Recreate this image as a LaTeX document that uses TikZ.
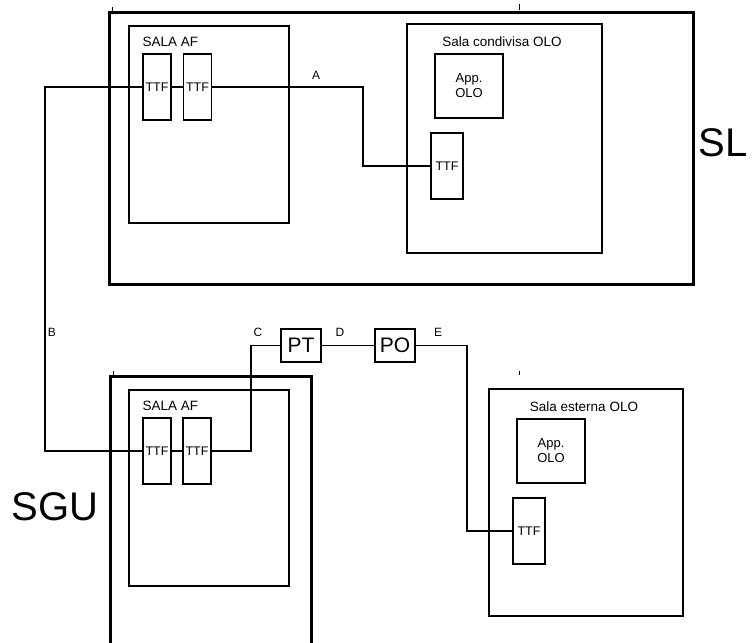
\documentclass[tikz,border=0pt]{standalone}
\usepackage{fontspec}
\setmainfont{Liberation Sans}
\usetikzlibrary{positioning}

\begin{document}
\begin{tikzpicture}[
        x=1pt, y=-1pt,
        line width=1.2pt,
        site/.style={rectangle, draw, line width=3pt, inner sep=0pt},
        room/.style={rectangle, draw, inner sep=0pt},
        ttf/.style={rectangle, draw, fill=white, minimum width=28pt, minimum height=66pt, inner sep=0pt, font=\fontsize{12.5}{14}\selectfont},
        app/.style={rectangle, draw, minimum width=68pt, minimum height=64pt, align=center, inner sep=0pt, font=\fontsize{13}{15}\selectfont},
        tag/.style={inner sep=0pt, font=\fontsize{13.5}{15}\selectfont},
        letter/.style={inner sep=0pt, font=\fontsize{12}{14}\selectfont},
        big/.style={inner sep=0pt, font=\fontsize{40}{40}\selectfont}
    ]
        \useasboundingbox (0,0) rectangle (753,643);
        \clip (0,0) rectangle (753,643);

        % SL site
        \node[site, minimum width=584pt, minimum height=272pt] (sl) at (401,148) {};
        \node[big] (sllabel) at (723,143) {SL};
        \node[room, minimum width=160pt, minimum height=197pt] (afup) at (209,124.5) {};
        \node[tag, anchor=west] (afuplabel) at (142,42) {SALA AF};
        \node[ttf] (ttfa) at (157,87) {TTF};
        \node[ttf] (ttfb) at (197.5,87) {TTF};
        \node[room, minimum width=195pt, minimum height=229pt] (shared) at (504.5,138.5) {};
        \node[tag] (sharedlabel) at (502,42) {Sala condivisa OLO};
        \node[app] (appup) at (469,86) {App.\\OLO};
        \node[ttf, minimum width=32pt] (ttfc) at (447,166) {TTF};

        % SGU site
        \draw[line width=3pt] (110,660) |- (311,376) -- (311,660);
        \node[big] (sgulabel) at (55,507) {SGU};
        \node[room, minimum width=160pt, minimum height=196pt] (afdown) at (209,488) {};
        \node[tag, anchor=west] (afdownlabel) at (142,406) {SALA AF};
        \node[ttf] (ttfd) at (157,451) {TTF};
        \node[ttf] (ttfe) at (197,451) {TTF};

        % external OLO room
        \node[room, minimum width=194pt, minimum height=227pt] (ext) at (586,502.5) {};
        \node[tag] (extlabel) at (584,407) {Sala esterna OLO};
        \node[app] (appdown) at (551,451) {App.\\OLO};
        \node[ttf, minimum width=32pt] (ttff) at (529,531) {TTF};

        % PT and PO
        \node[room, minimum width=40pt, minimum height=33pt, font=\fontsize{21}{21}\selectfont] (pt) at (301,345.5) {PT};
        \node[room, minimum width=40pt, minimum height=33pt, font=\fontsize{21}{21}\selectfont] (po) at (395,345.5) {PO};

        % bends
        \coordinate (bendA) at (363,87);
        \coordinate (bendB) at (45,87);
        \coordinate (bendC) at (251,451);
        \coordinate (bendE) at (467,345.5);

        % links
        \draw (ttfa) -- (ttfb);
        \draw (ttfd) -- (ttfe);
        \draw (ttfb.east) -- (bendA) |- (ttfc.west);
        \draw (ttfa.west) -- (bendB) |- (ttfd.west);
        \draw (ttfe.east) -- (bendC) |- (pt.west);
        \draw (pt.east) -- (po.west);
        \draw (po.east) -- (bendE) |- (ttff.west);

        \node[letter] (la) at (316,75) {A};
        \node[letter] (lb) at (52,332) {B};
        \node[letter] (lc) at (258,332) {C};
        \node[letter] (ld) at (340,332) {D};
        \node[letter] (le) at (438,332) {E};

        % stray ticks
        \draw[line width=1pt] (112,7) -- (112,12);
        \draw[line width=1pt] (519,4) -- (519,10);
        \draw[line width=1pt] (519,371) -- (519,375);
        \draw[line width=1pt] (113,371) -- (113,377);
\end{tikzpicture}
\end{document}
